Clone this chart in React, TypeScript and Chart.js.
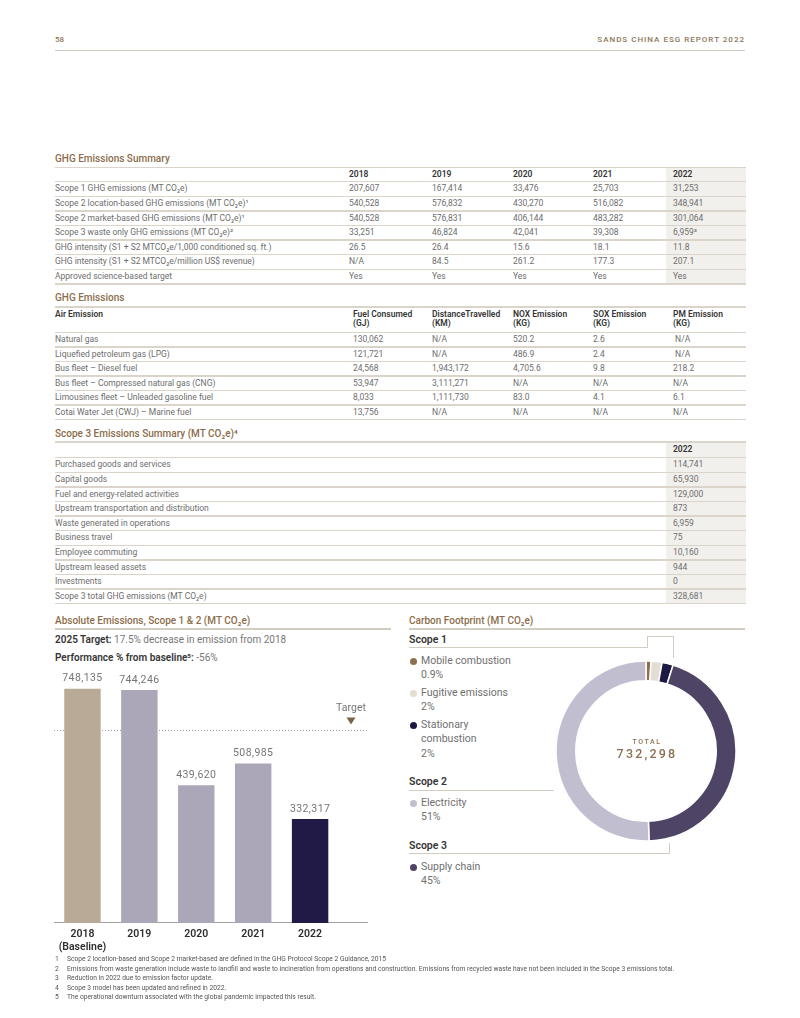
import React, { useEffect, useRef } from "react";
import { Chart, registerables } from "chart.js";

Chart.register(...registerables);

// ---------- DATA ----------
const summaryYears = ["2018", "2019", "2020", "2021", "2022"];
const summaryRowLabels = [
  "Scope 1 GHG emissions (MT CO₂e)",
  "Scope 2 location-based GHG emissions (MT CO₂e)¹",
  "Scope 2 market-based GHG emissions (MT CO₂e)¹",
  "Scope 3 waste only GHG emissions (MT CO₂e)²",
  "GHG intensity (S1 + S2 MTCO₂e/1,000 conditioned sq. ft.)",
  "GHG intensity (S1 + S2 MTCO₂e/million US$ revenue)",
  "Approved science-based target",
];
const summaryScope1 = ["207,607", "167,414", "33,476", "25,703", "31,253"];
const summaryScope2Location = ["540,528", "576,832", "430,270", "516,082", "348,941"];
const summaryScope2Market = ["540,528", "576,831", "406,144", "483,282", "301,064"];
const summaryScope3Waste = ["33,251", "46,824", "42,041", "39,308", "6,959³"];
const summaryIntensityArea = ["26.5", "26.4", "15.6", "18.1", "11.8"];
const summaryIntensityRevenue = ["N/A", "84.5", "261.2", "177.3", "207.1"];
const summaryTarget = ["Yes", "Yes", "Yes", "Yes", "Yes"];

const airHeaders = [
  ["Air Emission"],
  ["Fuel Consumed", "(GJ)"],
  ["DistanceTravelled", "(KM)"],
  ["NOX Emission", "(KG)"],
  ["SOX Emission", "(KG)"],
  ["PM Emission", "(KG)"],
];
const airSources = [
  "Natural gas",
  "Liquefied petroleum gas (LPG)",
  "Bus fleet – Diesel fuel",
  "Bus fleet – Compressed natural gas (CNG)",
  "Limousines fleet – Unleaded gasoline fuel",
  "Cotai Water Jet (CWJ) – Marine fuel",
];
const airFuel = ["130,062", "121,721", "24,568", "53,947", "8,033", "13,756"];
const airDistance = ["N/A", "N/A", "1,943,172", "3,111,271", "1,111,730", "N/A"];
const airNox = ["520.2", "486.9", "4,705.6", "N/A", "83.0", "N/A"];
const airSox = ["2.6", "2.4", "9.8", "N/A", "4.1", "N/A"];
const airPm = [" N/A", " N/A", "218.2", "N/A", "6.1", "N/A"];

const scope3Categories = [
  "Purchased goods and services",
  "Capital goods",
  "Fuel and energy-related activities",
  "Upstream transportation and distribution",
  "Waste generated in operations",
  "Business travel",
  "Employee commuting",
  "Upstream leased assets",
  "Investments",
  "Scope 3 total GHG emissions (MT CO₂e)",
];
const scope3Values2022 = ["114,741", "65,930", "129,000", "873", "6,959", "75", "10,160", "944", "0", "328,681"];

const barYears = ["2018", "2019", "2020", "2021", "2022"];
const barValues = [748135, 744246, 439620, 508985, 332317];
const barColors = ["#b9aa98", "#aca6b9", "#aca6b9", "#aca6b9", "#221a46"];
const targetValue = 617211;
const targetLabel = "Target";

const footprintLabels = ["Mobile combustion", "Fugitive emissions", "Stationary combustion", "Supply chain", "Electricity"];
const footprintShares = [0.9, 2, 2, 45, 51];
const footprintColors = ["#8c7151", "#e3ddd3", "#1e1942", "#4d4466", "#c1bed0"];
const footprintTotal = "732,298";

const footnotes = [
  "Scope 2 location-based and Scope 2 market-based are defined in the GHG Protocol Scope 2 Guidance, 2015",
  "Emissions from waste generation include waste to landfill and waste to incineration from operations and construction. Emissions from recycled waste have not been included in the Scope 3 emissions total.",
  "Reduction in 2022 due to emission factor update.",
  "Scope 3 model has been updated and refined in 2022.",
  "The operational downturn associated with the global pandemic impacted this result.",
];

// ---------- STYLE ----------
const FONT = "Roboto, 'Open Sans', sans-serif";
const BROWN = "#8b6d4b";
const DARK = "#353535";
const GREY = "#6e6e6e";
const LINE = "#dbd4cb";
const SHADE = "#f2f0ec";

type TProps = {
  x: number;
  y: number;
  size?: number;
  weight?: number;
  color?: string;
  align?: "left" | "right" | "center";
  ls?: number;
  children: React.ReactNode;
};
function T({ x, y, size = 8.5, weight = 400, color = GREY, align = "left", ls = 0, children }: TProps) {
  const lh = size * 1.3;
  const style: React.CSSProperties = {
    position: "absolute",
    top: y - lh / 2,
    lineHeight: lh + "px",
    fontSize: size,
    fontWeight: weight,
    color,
    whiteSpace: "pre",
    letterSpacing: ls,
  };
  if (align === "left") style.left = x;
  else if (align === "right") style.right = 800 - x;
  else {
    style.left = x - 200;
    style.width = 400;
    style.textAlign = "center";
  }
  return <div style={style}>{children}</div>;
}

function HLine({ x1, x2, y, color = LINE, w = 1 }: { x1: number; x2: number; y: number; color?: string; w?: number }) {
  return <div style={{ position: "absolute", left: x1, top: y - w / 2, width: x2 - x1, height: w, background: color }} />;
}
function VLine({ x, y1, y2, color = LINE, w = 1 }: { x: number; y1: number; y2: number; color?: string; w?: number }) {
  return <div style={{ position: "absolute", left: x - w / 2, top: y1, width: w, height: y2 - y1, background: color }} />;
}
function Rect({ x, y, w, h, color }: { x: number; y: number; w: number; h: number; color: string }) {
  return <div style={{ position: "absolute", left: x, top: y, width: w, height: h, background: color }} />;
}

const fmt = (v: number) => v.toLocaleString("en-US");

// ---------- CHARTS ----------
function BarChart() {
  const ref = useRef<HTMLCanvasElement>(null);
  useEffect(() => {
    if (!ref.current) return;
    const valueLabels = {
      id: "valueLabels",
      afterDatasetsDraw(chart: any) {
        const ctx = chart.ctx as CanvasRenderingContext2D;
        const meta = chart.getDatasetMeta(0);
        ctx.save();
        ctx.font = `400 10.5px ${FONT}`;
        ctx.fillStyle = "#767676";
        ctx.textAlign = "center";
        ctx.textBaseline = "middle";
        (ctx as any).letterSpacing = "0.4px";
        meta.data.forEach((bar: any, i: number) => {
          ctx.fillText(fmt(barValues[i]), bar.x, bar.y - 10);
        });
        ctx.restore();
      },
    };
    const target = {
      id: "target",
      beforeDatasetsDraw(chart: any) {
        const { ctx, chartArea, scales } = chart;
        const y = Math.round(scales.y.getPixelForValue(targetValue)) + 0.5;
        ctx.save();
        ctx.strokeStyle = "#9c9c9c";
        ctx.lineWidth = 1;
        ctx.setLineDash([1, 2]);
        ctx.beginPath();
        ctx.moveTo(chartArea.left, y);
        ctx.lineTo(chartArea.right, y);
        ctx.stroke();
        ctx.setLineDash([]);
        const tx = chartArea.right - 16;
        ctx.fillStyle = "#767676";
        ctx.font = `400 10.5px ${FONT}`;
        ctx.textAlign = "center";
        ctx.textBaseline = "middle";
        ctx.fillText(targetLabel, tx, y - 22);
        ctx.fillStyle = "#7a6347";
        ctx.beginPath();
        ctx.moveTo(tx - 4.5, y - 13);
        ctx.lineTo(tx + 4.5, y - 13);
        ctx.lineTo(tx, y - 6);
        ctx.closePath();
        ctx.fill();
        ctx.restore();
      },
    };
    const chart = new Chart(ref.current, {
      type: "bar",
      data: {
        datasets: [
          {
            data: barValues.map((v, i) => ({ x: i, y: v })),
            backgroundColor: barColors,
            barPercentage: 0.8,
            categoryPercentage: 0.8,
          },
        ],
      },
      options: {
        responsive: false,
        animation: false,
        layout: { padding: { left: 14, right: 13, top: 0, bottom: 1 } },
        plugins: { legend: { display: false }, tooltip: { enabled: false } },
        scales: {
          x: {
            type: "linear",
            offset: false,
            min: -0.5,
            max: 5,
            afterBuildTicks: (scale: any) => {
              scale.ticks = barYears.map((_, i) => ({ value: i }));
            },
            ticks: {
              autoSkip: false,
              maxRotation: 0,
              padding: 5,
              color: "#2e2e2e",
              font: { family: FONT, size: 10.5, weight: 600, lineHeight: 1.24 },
              callback: (v: any) => (Number(v) === 0 ? [barYears[0], "(Baseline)"] : barYears[Number(v)]),
            },
            grid: { display: false, drawTicks: false, offset: false },
            border: { display: true, color: "#a0a0a0", width: 1 },
          },
          y: { display: false, min: 0, max: 840000 },
        },
      },
      plugins: [target, valueLabels],
    } as any);
    return () => chart.destroy();
  }, []);
  return (
    <div style={{ position: "absolute", left: 40, top: 660, width: 340, height: 300 }}>
      <canvas ref={ref} width={340} height={300} style={{ width: 340, height: 300 }} />
    </div>
  );
}

function DonutChart() {
  const ref = useRef<HTMLCanvasElement>(null);
  useEffect(() => {
    if (!ref.current) return;
    const chart = new Chart(ref.current, {
      type: "doughnut",
      data: {
        labels: footprintLabels,
        datasets: [
          {
            data: footprintShares,
            backgroundColor: footprintColors,
            borderColor: "#ffffff",
            borderWidth: 1.5,
          },
        ],
      },
      options: {
        responsive: false,
        animation: false,
        radius: 90,
        cutout: "78%",
        rotation: 0,
        plugins: { legend: { display: false }, tooltip: { enabled: false } },
      },
    } as any);
    return () => chart.destroy();
  }, []);
  return (
    <div style={{ position: "absolute", left: 554, top: 659, width: 184, height: 184 }}>
      <canvas ref={ref} width={184} height={184} style={{ width: 184, height: 184 }} />
    </div>
  );
}

// ---------- PAGE ----------
export default function App() {
  const summaryRows = [
    summaryScope1,
    summaryScope2Location,
    summaryScope2Market,
    summaryScope3Waste,
    summaryIntensityArea,
    summaryIntensityRevenue,
    summaryTarget,
  ];
  const sumCols = [349, 432, 513, 593, 673];
  const sumTop = 167.5;
  const sumHeadH = 14.2;
  const rowH = 14.6;

  const airCols = [55, 353, 432, 513, 593, 673];
  const airCells = [airFuel, airDistance, airNox, airSox, airPm];
  const airTop = 307;
  const airHeadH = 25.4;
  const airRowH = 14.5;

  const s3Top = 442;
  const s3HeadH = 15.7;

  const els: React.ReactNode[] = [];

  // Table 1
  els.push(<Rect key="sh1" x={666} y={sumTop} w={80} h={sumHeadH + rowH * 7} color={SHADE} />);
  els.push(<HLine key="t1top" x1={55} x2={746} y={sumTop} w={1.5} />);
  summaryYears.forEach((yr, i) =>
    els.push(
      <T key={"sy" + i} x={sumCols[i]} y={sumTop + sumHeadH / 2} weight={600} color={DARK}>
        {yr}
      </T>
    )
  );
  summaryRowLabels.forEach((lab, r) => {
    const y0 = sumTop + sumHeadH + r * rowH;
    els.push(<HLine key={"sl" + r} x1={55} x2={746} y={y0} w={1.5} />);
    els.push(
      <T key={"slab" + r} x={55} y={y0 + rowH / 2}>
        {lab}
      </T>
    );
    summaryRows[r].forEach((v, c) =>
      els.push(
        <T key={"sv" + r + "-" + c} x={sumCols[c]} y={y0 + rowH / 2}>
          {v}
        </T>
      )
    );
  });
  els.push(<HLine key="t1bot" x1={55} x2={746} y={sumTop + sumHeadH + rowH * 7} w={1.5} />);

  // Table 2
  els.push(<HLine key="t2top" x1={55} x2={746} y={airTop} w={1.5} />);
  airHeaders.forEach((h, i) =>
    h.forEach((line, j) =>
      els.push(
        <T key={"ah" + i + "-" + j} x={airCols[i]} y={airTop + 8 + j * 8.5} weight={600} color={DARK}>
          {line}
        </T>
      )
    )
  );
  airSources.forEach((lab, r) => {
    const y0 = airTop + airHeadH + r * airRowH;
    els.push(<HLine key={"al" + r} x1={55} x2={746} y={y0} w={1.5} />);
    els.push(
      <T key={"alab" + r} x={55} y={y0 + airRowH / 2}>
        {lab}
      </T>
    );
    airCells.forEach((col, c) =>
      els.push(
        <T key={"av" + r + "-" + c} x={airCols[c + 1]} y={y0 + airRowH / 2}>
          {col[r]}
        </T>
      )
    );
  });
  els.push(<HLine key="t2bot" x1={55} x2={746} y={airTop + airHeadH + airRowH * 6} w={1.5} />);

  // Table 3
  els.push(<Rect key="sh3" x={666} y={s3Top} w={80} h={s3HeadH + rowH * 10} color={SHADE} />);
  els.push(<HLine key="t3top" x1={55} x2={746} y={s3Top} w={1.5} />);
  els.push(
    <T key="s3h" x={673} y={s3Top + 7.5} weight={600} color={DARK}>
      2022
    </T>
  );
  scope3Categories.forEach((lab, r) => {
    const y0 = s3Top + s3HeadH + r * rowH;
    els.push(<HLine key={"s3l" + r} x1={55} x2={746} y={y0} w={1.5} />);
    els.push(
      <T key={"s3lab" + r} x={55} y={y0 + rowH / 2}>
        {lab}
      </T>
    );
    els.push(
      <T key={"s3v" + r} x={673} y={y0 + rowH / 2}>
        {scope3Values2022[r]}
      </T>
    );
  });
  els.push(<HLine key="t3bot" x1={55} x2={746} y={s3Top + s3HeadH + rowH * 10} w={1.5} />);

  // Donut legend
  const legendOrder = [
    { idx: 0, lines: ["Mobile combustion", "0.9%"], y: 661 },
    { idx: 1, lines: ["Fugitive emissions", "2%"], y: 693 },
    { idx: 2, lines: ["Stationary", "combustion", "2%"], y: 725 },
    { idx: 4, lines: ["Electricity", "51%"], y: 803 },
    { idx: 3, lines: ["Supply chain", "45%"], y: 867 },
  ];

  return (
    <div
      style={{
        position: "absolute",
        left: 0,
        top: 0,
        width: 800,
        height: 1018,
        background: "#fff",
        fontFamily: FONT,
        overflow: "hidden",
      }}
    >
      {/* Header */}
      <T x={55} y={40} size={8} color="#8d7759" weight={500}>
        58
      </T>
      <T x={745} y={40} size={8} color="#8d7759" weight={500} align="right" ls={1}>
        SANDS CHINA ESG REPORT 2022
      </T>
      <HLine x1={55} x2={745} y={50.5} w={1.5} color="#d3ccc3" />

      {/* Section titles */}
      <T x={55} y={158} size={10} weight={500} color={BROWN}>
        GHG Emissions Summary
      </T>
      <T x={55} y={297.5} size={10} weight={500} color={BROWN}>
        GHG Emissions
      </T>
      <T x={55} y={433.5} size={10} weight={500} color={BROWN}>
        Scope 3 Emissions Summary (MT CO₂e)⁴
      </T>

      {els}

      {/* Bar chart panel */}
      <T x={55} y={620.5} size={10} weight={500} color={BROWN}>
        Absolute Emissions, Scope 1 &amp; 2 (MT CO₂e)
      </T>
      <HLine x1={55} x2={391} y={629} w={1.5} color="#d3ccc3" />
      <T x={55} y={639} size={10} color="#777">
        <span style={{ fontWeight: 600, color: DARK }}>2025 Target:</span> 17.5% decrease in emission from 2018
      </T>
      <T x={55} y={657} size={10} color="#777">
        <span style={{ fontWeight: 600, color: DARK }}>Performance % from baseline⁵:</span> -56%
      </T>
      <BarChart />

      {/* Donut panel */}
      <T x={409} y={620.5} size={10} weight={500} color={BROWN}>
        Carbon Footprint (MT CO₂e)
      </T>
      <HLine x1={409} x2={745} y={629} w={1.5} color="#d3ccc3" />
      <T x={409} y={639.5} size={10.5} weight={600} color={DARK}>
        Scope 1
      </T>
      <HLine x1={409} x2={647} y={647.5} color="#d3ccc3" />
      <VLine x={647} y1={636} y2={648} color="#d3ccc3" />
      <HLine x1={647} x2={673.5} y={636} color="#d3ccc3" />
      <VLine x={673.5} y1={636} y2={658} color="#d3ccc3" />
      <T x={409} y={781.5} size={10.5} weight={600} color={DARK}>
        Scope 2
      </T>
      <HLine x1={409} x2={554} y={790} color="#d3ccc3" />
      <T x={409} y={845.5} size={10.5} weight={600} color={DARK}>
        Scope 3
      </T>
      <HLine x1={409} x2={669.5} y={853.5} color="#d3ccc3" />
      <VLine x={669.5} y1={843} y2={854} color="#d3ccc3" />

      {legendOrder.map((item) => (
        <React.Fragment key={item.idx}>
          <div
            style={{
              position: "absolute",
              left: 409.5,
              top: item.y - 3.5,
              width: 7,
              height: 7,
              borderRadius: "50%",
              background: footprintColors[item.idx],
            }}
          />
          {item.lines.map((l, j) => (
            <T key={j} x={421} y={item.y + j * 14.2} size={10.5} color="#707070">
              {l}
            </T>
          ))}
        </React.Fragment>
      ))}

      <DonutChart />
      <T x={647} y={742.5} size={7} color="#8b7152" align="center" ls={1.6} weight={500}>
        TOTAL
      </T>
      <T x={647} y={754.5} size={12.5} color="#8b7152" align="center" ls={2.2} weight={500}>
        {footprintTotal}
      </T>

      {/* Footnotes */}
      {footnotes.map((f, i) => (
        <React.Fragment key={"fn" + i}>
          <T x={55} y={959.5 + i * 9.5} size={6.7} color="#555">
            {String(i + 1)}
          </T>
          <T x={67} y={959.5 + i * 9.5} size={6.7} color="#555">
            {f}
          </T>
        </React.Fragment>
      ))}
    </div>
  );
}
